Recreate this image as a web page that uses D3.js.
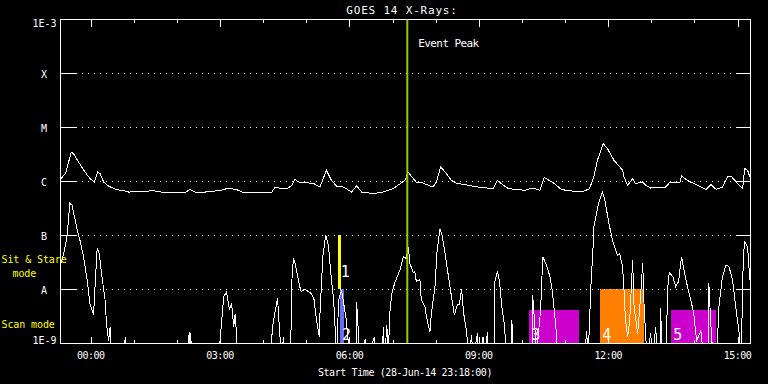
<!DOCTYPE html>
<html>
<head>
<meta charset="utf-8">
<script src="https://cdn.jsdelivr.net/npm/d3@7"></script>
<style>
  body { margin: 0; background: #000; }
  svg { display: block; background: #000; }
  text { font-family: "DejaVu Sans Mono", monospace; fill: #fff; }
</style>
</head>
<body>
<div id="chart"></div>
<script>
// GOES 14 long channel (1-8 A), [time UT, flux W/m^2]
var longXray = [
  ["23:19", 1.12e-6], ["23:22", 1.29e-6], ["23:25", 1.39e-6], ["23:33", 3.49e-6], ["23:36", 3.26e-6],
  ["23:43", 2.28e-6], ["23:52", 1.49e-6], ["23:59", 1.12e-6], ["00:05", 9.7e-7], ["00:10", 1.49e-6],
  ["00:13", 1.39e-6], ["00:18", 9.7e-7], ["00:25", 8.1e-7], ["00:36", 7.0e-7], ["00:48", 6.6e-7],
  ["00:53", 6.3e-7], ["01:20", 6.5e-7], ["01:23", 6.8e-7], ["01:44", 6.1e-7], ["02:12", 6.3e-7],
  ["02:18", 7.0e-7], ["02:25", 6.3e-7], ["02:39", 6.3e-7], ["03:02", 6.8e-7], ["03:12", 7.5e-7],
  ["03:26", 6.8e-7], ["03:32", 6.2e-7], ["03:46", 6.3e-7], ["04:12", 6.3e-7], ["04:16", 7.6e-7],
  ["04:33", 7.3e-7], ["04:40", 8.4e-7], ["04:44", 1.09e-6], ["04:49", 9.7e-7], ["05:10", 9.1e-7],
  ["05:19", 7.8e-7], ["05:28", 1.6e-6], ["05:35", 1.04e-6], ["05:42", 8.1e-7], ["05:52", 7.8e-7],
  ["06:03", 6.3e-7], ["06:10", 8.2e-7], ["06:17", 6.3e-7], ["06:33", 5.9e-7], ["06:47", 6.3e-7],
  ["07:01", 7.3e-7], ["07:17", 1.04e-6], ["07:22", 1.45e-6], ["07:34", 9.3e-7], ["07:40", 9.5e-7],
  ["07:56", 7.8e-7], ["08:01", 9.7e-7], ["08:07", 1.84e-6], ["08:13", 1.49e-6], ["08:22", 1.04e-6],
  ["08:29", 9.1e-7], ["08:40", 8.7e-7], ["08:59", 7.8e-7], ["09:20", 7.3e-7], ["09:26", 1.04e-6],
  ["09:31", 9.1e-7], ["09:41", 7.3e-7], ["10:04", 6.8e-7], ["10:15", 7.5e-7], ["10:25", 6.8e-7],
  ["10:31", 1.17e-6], ["10:36", 1.07e-6], ["10:43", 9.5e-7], ["10:55", 7.0e-7], ["11:13", 6.5e-7],
  ["11:27", 6.6e-7], ["11:34", 7.3e-7], ["11:40", 1.2e-6], ["11:45", 2.45e-6], ["11:53", 4.99e-6],
  ["11:59", 4.03e-6], ["12:08", 2.45e-6], ["12:20", 1.6e-6], ["12:22", 1.2e-6], ["12:27", 8.4e-7],
  ["12:34", 1.12e-6], ["12:38", 9.1e-7], ["12:48", 9.7e-7], ["12:52", 8.4e-7], ["12:59", 7.5e-7],
  ["13:09", 7.8e-7], ["13:20", 7.8e-7], ["13:25", 9.3e-7], ["13:40", 9.7e-7], ["13:42", 1.25e-6],
  ["13:50", 1.04e-6], ["14:04", 8.4e-7], ["14:16", 7.0e-7], ["14:23", 8.7e-7], ["14:30", 7.1e-7],
  ["14:39", 7.8e-7], ["14:46", 1.2e-6], ["14:51", 1.24e-6], ["15:00", 9.1e-7], ["15:07", 7.3e-7],
  ["15:10", 1.72e-6], ["15:14", 1.6e-6], ["15:17", 1.2e-6]
];

// GOES 14 short channel (0.5-4 A); 5e-10 = below plot range
var shortXray = [
  ["23:19", 3.0e-8], ["23:22", 4.3e-8], ["23:27", 9.3e-8], ["23:31", 3.9e-7], ["23:34", 3.6e-7],
  ["23:36", 2.7e-7], ["23:41", 1.3e-7], ["23:45", 8.1e-8], ["23:50", 4.0e-8], ["23:55", 1.5e-8],
  ["23:59", 5.4e-9], ["00:04", 3.3e-9], ["00:06", 1.1e-8], ["00:09", 5.7e-8], ["00:12", 4.6e-8],
  ["00:15", 2.0e-8], ["00:20", 6.3e-9], ["00:22", 2.3e-9], ["00:25", 1.1e-9], ["00:27", 2.0e-9],
  ["00:29", 5e-10], ["00:46", 5e-10], ["00:48", 1.3e-9], ["00:50", 5e-10], ["02:15", 5e-10],
  ["02:17", 1.6e-9], ["02:18", 8e-10], ["02:19", 1.5e-9], ["02:21", 5e-10], ["02:58", 5e-10],
  ["03:00", 1.1e-9], ["03:05", 7.2e-9], ["03:09", 8.9e-9], ["03:13", 4.1e-9], ["03:16", 5.4e-9],
  ["03:19", 2.0e-9], ["03:21", 3.5e-9], ["03:25", 5e-10], ["04:10", 5e-10], ["04:13", 2.0e-9],
  ["04:16", 3.5e-9], ["04:20", 6.7e-9], ["04:21", 4.1e-9], ["04:23", 1.5e-9], ["04:26", 5e-10],
  ["04:28", 1.3e-9], ["04:31", 5e-10], ["04:38", 5e-10], ["04:40", 1.5e-8], ["04:42", 3.7e-8],
  ["04:44", 3.2e-8], ["04:47", 2.0e-8], ["04:51", 1.1e-8], ["04:53", 8.9e-9], ["04:58", 1.0e-8],
  ["05:03", 8.9e-9], ["05:07", 8.3e-9], ["05:11", 6.3e-9], ["05:13", 3.5e-9], ["05:16", 1.9e-9],
  ["05:18", 1.3e-9], ["05:19", 3.5e-9], ["05:23", 4.0e-8], ["05:27", 1.0e-7], ["05:31", 6.1e-8],
  ["05:34", 2.0e-8], ["05:38", 6.3e-9], ["05:40", 2.0e-9], ["05:42", 5e-10], ["05:45", 6.3e-9],
  ["05:49", 9.6e-9], ["05:52", 5.4e-9], ["05:55", 3.1e-9], ["05:57", 1.7e-9], ["06:00", 5e-10],
  ["06:09", 5e-10], ["06:10", 5.8e-9], ["06:12", 2.0e-9], ["06:14", 5e-10], ["06:22", 1.2e-9],
  ["06:24", 5e-10], ["06:35", 1.3e-9], ["06:37", 5e-10], ["06:46", 5e-10], ["06:47", 2.0e-9],
  ["06:49", 5e-10], ["06:52", 2.2e-9], ["06:54", 5e-10], ["06:56", 3.5e-9], ["06:59", 8.3e-9],
  ["07:03", 1.3e-8], ["07:10", 2.2e-8], ["07:15", 4.0e-8], ["07:19", 3.7e-8], ["07:22", 6.1e-8],
  ["07:24", 3.0e-8], ["07:29", 2.0e-8], ["07:31", 2.1e-8], ["07:33", 1.4e-8], ["07:38", 1.5e-8],
  ["07:40", 6.3e-9], ["07:45", 4.7e-9], ["07:47", 3.1e-9], ["07:52", 1.6e-9], ["07:54", 3.5e-9],
  ["07:59", 1.1e-8], ["08:02", 5.3e-8], ["08:06", 1.3e-7], ["08:09", 1.0e-7], ["08:13", 4.6e-8],
  ["08:17", 2.0e-8], ["08:22", 7.2e-9], ["08:26", 3.3e-9], ["08:30", 5.1e-9], ["08:33", 5.1e-9],
  ["08:36", 1.0e-8], ["08:39", 3.5e-9], ["08:43", 1.6e-9], ["08:46", 5e-10], ["08:50", 1.4e-9],
  ["08:52", 5e-10], ["08:58", 1.5e-9], ["09:00", 5e-10], ["09:06", 1.3e-9], ["09:08", 5e-10],
  ["09:12", 1.6e-9], ["09:14", 5e-10], ["09:21", 5e-10], ["09:22", 1.3e-8], ["09:26", 2.2e-8],
  ["09:29", 1.3e-8], ["09:32", 4.7e-9], ["09:36", 2.0e-9], ["09:38", 5e-10], ["09:45", 5e-10],
  ["09:46", 2.7e-9], ["09:48", 5e-10], ["10:14", 5e-10], ["10:15", 7.7e-9], ["10:18", 2.0e-9],
  ["10:20", 5e-10], ["10:23", 1.5e-9], ["10:26", 4.1e-9], ["10:29", 4.0e-8], ["10:34", 2.8e-8],
  ["10:39", 1.7e-8], ["10:42", 9.6e-9], ["10:45", 4.1e-9], ["10:48", 1.5e-9], ["10:50", 5e-10],
  ["11:27", 5e-10], ["11:30", 1.7e-9], ["11:32", 5e-10], ["11:36", 1.2e-8], ["11:39", 6.1e-8],
  ["11:40", 1.4e-7], ["11:47", 4.1e-7], ["11:52", 6.3e-7], ["11:55", 4.8e-7], ["12:01", 1.65e-7],
  ["12:06", 8.1e-8], ["12:13", 4.2e-8], ["12:16", 4.6e-8], ["12:20", 2.6e-8], ["12:22", 9.6e-9],
  ["12:24", 2.7e-9], ["12:27", 1.3e-9], ["12:30", 2.7e-9], ["12:34", 3.4e-8], ["12:36", 4.7e-9],
  ["12:41", 1.5e-9], ["12:44", 4.7e-9], ["12:48", 3.0e-8], ["12:50", 4.7e-9], ["12:54", 5e-10],
  ["12:59", 1.5e-9], ["13:02", 5e-10], ["13:06", 2.0e-9], ["13:09", 5e-10], ["13:12", 5e-10],
  ["13:13", 4.4e-9], ["13:15", 5e-10], ["13:20", 5e-10], ["13:23", 1.1e-8], ["13:25", 2.0e-8],
  ["13:30", 1.7e-8], ["13:34", 1.1e-8], ["13:38", 1.4e-8], ["13:42", 4.0e-8], ["13:46", 2.1e-8],
  ["13:51", 1.0e-8], ["13:55", 6.3e-9], ["13:59", 3.5e-9], ["14:03", 1.1e-9], ["14:09", 1.7e-9],
  ["14:13", 5e-10], ["14:19", 5e-10], ["14:20", 1.3e-8], ["14:23", 2.0e-9], ["14:26", 5e-10],
  ["14:31", 5e-10], ["14:34", 4.7e-9], ["14:39", 1.7e-8], ["14:44", 2.8e-8], ["14:48", 2.6e-8],
  ["14:53", 1.5e-8], ["14:58", 4.1e-9], ["15:02", 1.6e-9], ["15:05", 5e-10], ["15:08", 4.0e-8],
  ["15:10", 7.5e-8], ["15:14", 6.1e-8], ["15:17", 1.5e-8]
];

// observation windows drawn as boxes
var obsLabels = ["1", "2", "3", "4", "5"];
var obsStart = ["05:44:20", "05:46:20", "10:09:30", "11:48:20", "13:27:00"];
var obsEnd = ["05:48:00", "05:51:55", "11:19:00", "12:50:30", "14:29:20"];
var obsTop = [1e-7, 1e-8, 4.1e-9, 1e-8, 4.1e-9];
var obsBottom = [1e-8, 1e-9, 1e-9, 1e-9, 1e-9];

var yTickValues = [1e-3, 1e-4, 1e-5, 1e-6, 1e-7, 1e-8, 1e-9];
var yTickLabels = ["1E-3", "X", "M", "C", "B", "A", "1E-9"];

var startTime = "23:18:00";
var endTime = "15:18:00";
var eventPeak = "07:20:30";

var obsColors = ["#ffff00", "#6a6aff", "#cc00cc", "#ff8000", "#cc00cc"];

// times after 23:00 belong to 28-Jun-14, the rest to 29-Jun-14
function toDate(s) {
    var p = s.split(":").map(Number);
    var day = p[0] >= 23 ? 28 : 29;
    return new Date(Date.UTC(2014, 5, day, p[0], p[1], p[2] || 0));
}

var width = 768, height = 384;
var plotLeft = 60.5, plotRight = 750.5, plotTop = 19.5, plotBottom = 343;

var svg = d3.select("#chart").append("svg")
    .attr("width", width)
    .attr("height", height);

var x = d3.scaleUtc()
    .domain([toDate(startTime), toDate(endTime)])
    .range([plotLeft, plotRight]);

var y = d3.scaleLog()
    .domain([1e-9, 1e-3])
    .range([plotBottom, plotTop]);

svg.append("defs").append("clipPath").attr("id", "plotClip")
    .append("rect")
    .attr("x", plotLeft).attr("y", plotTop)
    .attr("width", plotRight - plotLeft).attr("height", plotBottom - plotTop);

// observation boxes
svg.append("g").selectAll("rect")
    .data(obsLabels)
    .join("rect")
    .attr("x", (d, i) => x(toDate(obsStart[i])))
    .attr("y", (d, i) => y(obsTop[i]))
    .attr("width", (d, i) => x(toDate(obsEnd[i])) - x(toDate(obsStart[i])))
    .attr("height", (d, i) => y(obsBottom[i]) - y(obsTop[i]))
    .attr("fill", (d, i) => obsColors[i])
    .attr("shape-rendering", "crispEdges");

// dotted grid at the flare classes
svg.append("g").selectAll("line")
    .data(yTickValues.slice(1, -1))
    .join("line")
    .attr("x1", plotLeft + 15).attr("x2", plotRight - 14)
    .attr("y1", d => Math.round(y(d)) + 0.5).attr("y2", d => Math.round(y(d)) + 0.5)
    .attr("stroke", "#fff")
    .attr("stroke-dasharray", "1,5")
    .attr("shape-rendering", "crispEdges");

function styleAxis(g) {
    g.select(".domain").remove();
    g.selectAll("line").attr("stroke", "#fff").attr("shape-rendering", "crispEdges");
    g.selectAll("text").remove();
}

// time axes, ticks inside on top and bottom
svg.append("g").attr("transform", "translate(0," + plotBottom + ")")
    .call(d3.axisBottom(x).ticks(d3.utcHour.every(1)).tickSize(-3)).call(styleAxis);
svg.append("g").attr("transform", "translate(0," + plotBottom + ")")
    .call(d3.axisBottom(x).ticks(d3.utcHour.every(3)).tickSize(-6)).call(styleAxis);
svg.append("g").attr("transform", "translate(0," + plotTop + ")")
    .call(d3.axisTop(x).ticks(d3.utcHour.every(1)).tickSize(-3)).call(styleAxis);
svg.append("g").attr("transform", "translate(0," + plotTop + ")")
    .call(d3.axisTop(x).ticks(d3.utcHour.every(3)).tickSize(-7)).call(styleAxis);

svg.append("g").selectAll("text")
    .data(x.ticks(d3.utcHour.every(3)))
    .join("text")
    .attr("x", d => x(d))
    .attr("y", 359)
    .attr("text-anchor", "middle")
    .attr("font-size", 10)
    .attr("letter-spacing", -0.5)
    .text(d3.utcFormat("%H:%M"));

// flux axes
svg.append("g").attr("transform", "translate(" + plotLeft + ",0)")
    .call(d3.axisLeft(y).tickValues(yTickValues.slice(1, -1)).tickSize(-15)).call(styleAxis);
svg.append("g").attr("transform", "translate(" + plotRight + ",0)")
    .call(d3.axisRight(y).tickValues(yTickValues.slice(1, -1)).tickSize(-14)).call(styleAxis);

svg.append("g").selectAll("text")
    .data(yTickValues)
    .join("text")
    .attr("x", (d, i) => (i == 0 || i == yTickValues.length - 1) ? 56.5 : 44)
    .attr("y", (d, i) => y(d) + (i == 0 ? 7.5 : (i == yTickValues.length - 1 ? 1 : 4.5)))
    .attr("text-anchor", (d, i) => (i == 0 || i == yTickValues.length - 1) ? "end" : "middle")
    .attr("font-size", 10)
    .text((d, i) => yTickLabels[i]);

// frame
svg.append("rect")
    .attr("x", plotLeft).attr("y", plotTop)
    .attr("width", plotRight - plotLeft).attr("height", plotBottom + 0.5 - plotTop)
    .attr("fill", "none")
    .attr("stroke", "#fff")
    .attr("shape-rendering", "crispEdges");

// flux curves, drawn aliased like the original plot
var line = d3.line()
    .x(d => x(toDate(d[0])))
    .y(d => y(d[1]));

var curves = svg.append("g").attr("clip-path", "url(#plotClip)");
[longXray, shortXray].forEach(function(series) {
    curves.append("path")
        .datum(series)
        .attr("d", line)
        .attr("fill", "none")
        .attr("stroke", "#fff")
        .attr("stroke-width", 1)
        .attr("shape-rendering", "crispEdges");
});

// event peak marker
svg.append("line")
    .attr("x1", x(toDate(eventPeak))).attr("x2", x(toDate(eventPeak)))
    .attr("y1", plotTop).attr("y2", plotBottom)
    .attr("stroke", "#99cc00")
    .attr("stroke-width", 2);

svg.append("text")
    .attr("x", x(toDate(eventPeak)) + 11)
    .attr("y", 46.5)
    .attr("font-size", 11)
    .attr("letter-spacing", -0.6)
    .text("Event Peak");

// box numbers; the sit & stare one sits a little higher in its box
svg.append("g").selectAll("text")
    .data(obsLabels)
    .join("text")
    .attr("x", (d, i) => x(toDate(obsStart[i])) + 2.5)
    .attr("y", (d, i) => y(obsBottom[i]) - (i == 0 ? 12 : 3))
    .attr("font-size", 15)
    .attr("font-weight", 300)
    .text(d => d);

// titles
svg.append("text")
    .attr("x", 402).attr("y", 14)
    .attr("text-anchor", "middle")
    .attr("font-size", 11)
    .attr("letter-spacing", 0.8)
    .text("GOES 14 X-Rays:");

svg.append("text")
    .attr("x", 405).attr("y", 376)
    .attr("text-anchor", "middle")
    .attr("font-size", 10)
    .attr("letter-spacing", -0.4)
    .text("Start Time (28-Jun-14 23:18:00)");

// observing mode labels
var modes = svg.append("g").attr("font-size", 10).attr("letter-spacing", -0.1);
modes.append("text").attr("x", 1.5).attr("y", 262.5).style("fill", "#ffff00").text("Sit & Stare");
modes.append("text").attr("x", 12.5).attr("y", 276.5).style("fill", "#ffff00").text("mode");
modes.append("text").attr("x", 1.5).attr("y", 328).style("fill", "#ffff00").text("Scan mode");
</script>
</body>
</html>
